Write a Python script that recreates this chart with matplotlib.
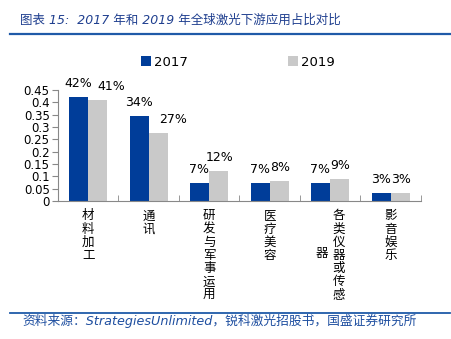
import matplotlib
matplotlib.use("Agg")
import matplotlib.pyplot as plt
import numpy as np
from matplotlib.lines import Line2D
from matplotlib.ticker import FuncFormatter

plt.rcParams['font.family'] = ['DejaVu Sans', 'Noto Sans CJK SC']

categories = ["材料加工", "通讯", "研发与军事运用", "医疗美容", "各类仪器或传感器", "影音娱乐"]
series_names = ["2017", "2019"]
values_2017 = [0.423, 0.344, 0.073, 0.073, 0.073, 0.034]
values_2019 = [0.409, 0.274, 0.122, 0.081, 0.088, 0.034]
yticks = [0, 0.05, 0.1, 0.15, 0.2, 0.25, 0.3, 0.35, 0.4, 0.45]

title = "图表 15:  2017 年和 2019 年全球激光下游应用占比对比"
source = "资料来源：StrategiesUnlimited，锐科激光招股书，国盛证券研究所"

c2017 = "#003D99"
c2019 = "#C9C9C9"
W, H = 452, 339
fig = plt.figure(figsize=(W / 100, H / 100), dpi=100)
ax = fig.add_axes([58 / W, 1 - 201 / H, (421 - 58) / W, (201 - 90) / H])

x = np.arange(len(categories))
bw = 0.31
b1 = ax.bar(x - bw / 2, values_2017, bw, color=c2017, label=series_names[0])
b2 = ax.bar(x + bw / 2, values_2019, bw, color=c2019, label=series_names[1])

ax.set_xlim(-0.5, len(categories) - 0.5)
ax.set_ylim(0, 0.45)
ax.set_yticks(yticks)
ax.yaxis.set_major_formatter(FuncFormatter(lambda v, p: f"{v:g}"))
ax.tick_params(axis='y', direction='out', length=4, color='#888888', labelsize=8.5, pad=2)
ax.set_xticks(x)
ax.set_xticklabels([])
ax.tick_params(axis='x', which='major', length=0)
ax.set_xticks(np.arange(len(categories) + 1) - 0.5, minor=True)
ax.tick_params(axis='x', which='minor', direction='in', length=4, color='#888888')
for s in ['top', 'right']:
    ax.spines[s].set_visible(False)
for s in ['left', 'bottom']:
    ax.spines[s].set_color('#888888')

# value labels
shift_2019 = [13, 14, 0, 0, 0, 0]
for i, v in enumerate(values_2017):
    ax.annotate(f"{v:.0%}", (x[i] - bw / 2, v), xytext=(-0.5, 5), textcoords='offset points',
                ha='center', va='bottom', fontsize=9)
for i, v in enumerate(values_2019):
    ax.annotate(f"{v:.0%}", (x[i] + bw / 2, v), xytext=(shift_2019[i] * 0.72 + 0.5, 5),
                textcoords='offset points', ha='center', va='bottom', fontsize=9)

# vertical stacked category labels
maxlen = 7
ls = 1.02
fs = 9
for i, cat in enumerate(categories):
    chars = list(cat)
    main = chars[:maxlen]
    rest = chars[maxlen:]
    xc = i
    if rest:
        ax.annotate("\n".join(main), (xc, 0), xytext=(6, -6), textcoords='offset points',
                    ha='center', va='top', fontsize=fs, linespacing=ls,
                    family=['Noto Sans CJK SC'], annotation_clip=False)
        ax.annotate("\n".join(rest), (xc, 0), xytext=(-6, -6 - 3 * 9.1),
                    textcoords='offset points', ha='center', va='top', fontsize=fs,
                    linespacing=ls, family=['Noto Sans CJK SC'], annotation_clip=False)
    else:
        ax.annotate("\n".join(main), (xc, 0), xytext=(0, -6), textcoords='offset points',
                    ha='center', va='top', fontsize=fs, linespacing=ls,
                    family=['Noto Sans CJK SC'], annotation_clip=False)

# legend
fig.legend(handles=[b1, b2], labels=series_names, loc='center',
           bbox_to_anchor=(238 / W, 1 - 62 / H), ncol=2, frameon=False,
           fontsize=9.5, handlelength=0.75, handleheight=0.75, handletextpad=0.25,
           columnspacing=7.6, borderaxespad=0)

# title and rules
fig.text(20 / W, 1 - 20 / H, title, fontsize=9, style='italic', color='#1F3F8F',
         va='center', ha='left', family=['DejaVu Sans', 'Noto Sans CJK SC'])
fig.add_artist(Line2D([10 / W, 450 / W], [1 - 33.5 / H, 1 - 33.5 / H], color='#1F5AA8', lw=1.6))
fig.add_artist(Line2D([10 / W, 450 / W], [1 - 312.5 / H, 1 - 312.5 / H], color='#1F5AA8', lw=1.3))
fig.text(22 / W, 1 - 321 / H, source, fontsize=9.2, style='italic', color='#1F4FA0',
         va='center', ha='left', family=['DejaVu Sans', 'Noto Sans CJK SC'])

fig.savefig("out.png", dpi=100)
